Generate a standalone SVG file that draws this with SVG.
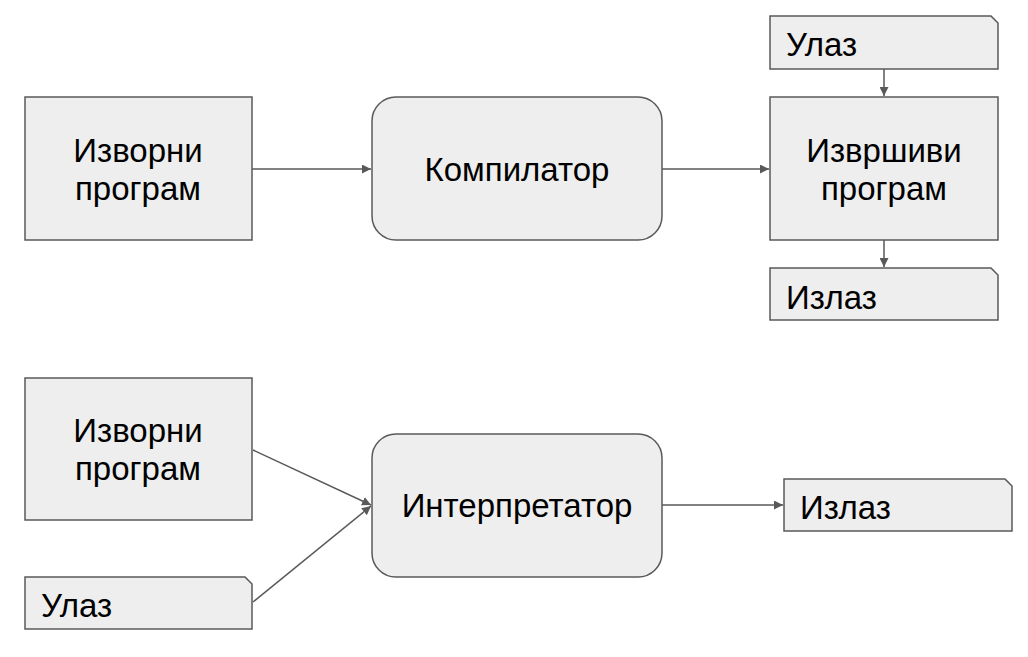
<svg xmlns="http://www.w3.org/2000/svg" width="1028" height="657" viewBox="0 0 1028 657">
<style>
.n{fill:#eeeeee;stroke:#595959;stroke-width:1.5}
.t{font-family:"Liberation Sans",Arial,sans-serif;font-size:33px;fill:#000}
.c{text-anchor:middle}
.e{stroke:#595959;stroke-width:1.5;fill:none;marker-end:url(#a)}
</style>
<defs>
<marker id="a" viewBox="0 0 10 10" refX="10" refY="5" markerWidth="9" markerHeight="9" markerUnits="userSpaceOnUse" orient="auto">
<path d="M0,0 L10,5 L0,10 z" fill="#595959"/>
</marker>
</defs>
<rect width="1028" height="657" fill="#fff"/>
<g id="connectors">
<line class="e" x1="252" y1="169" x2="371" y2="169"/>
<line class="e" x1="662" y1="169" x2="769" y2="169"/>
<line class="e" x1="884" y1="69" x2="884" y2="96"/>
<line class="e" x1="884" y1="240" x2="884" y2="267"/>
<line class="e" x1="253" y1="450" x2="371" y2="505"/>
<line class="e" x1="253" y1="602" x2="371" y2="506"/>
<line class="e" x1="662" y1="505" x2="783" y2="505"/>
</g>
<g id="src1">
<rect class="n" x="25" y="97" width="227" height="143"/>
<text class="t c" x="138" y="162">Изворни</text>
<text class="t c" x="138" y="200">програм</text>
</g>
<g id="compiler">
<rect class="n" x="372" y="97" width="290" height="143" rx="24"/>
<text class="t c" x="517" y="181">Компилатор</text>
</g>
<g id="exe">
<rect class="n" x="770" y="97" width="228" height="143"/>
<text class="t c" x="884" y="162">Извршиви</text>
<text class="t c" x="884" y="200">програм</text>
</g>
<g id="in1">
<path class="n" d="M770,16 H991 L998,23 V69 H770 Z"/>
<text class="t" x="786" y="56">Улаз</text>
</g>
<g id="out1">
<path class="n" d="M770,268 H991 L998,275 V320 H770 Z"/>
<text class="t" x="786" y="309">Излаз</text>
</g>
<g id="src2">
<rect class="n" x="25" y="378" width="227" height="142"/>
<text class="t c" x="138" y="442">Изворни</text>
<text class="t c" x="138" y="480">програм</text>
</g>
<g id="interp">
<rect class="n" x="372" y="434" width="290" height="143" rx="24"/>
<text class="t c" x="517" y="517">Интерпретатор</text>
</g>
<g id="in2">
<path class="n" d="M25,577 H245 L252,584 V629 H25 Z"/>
<text class="t" x="41" y="617">Улаз</text>
</g>
<g id="out2">
<path class="n" d="M784,479 H1005 L1012,486 V531 H784 Z"/>
<text class="t" x="800" y="519">Излаз</text>
</g>
</svg>
